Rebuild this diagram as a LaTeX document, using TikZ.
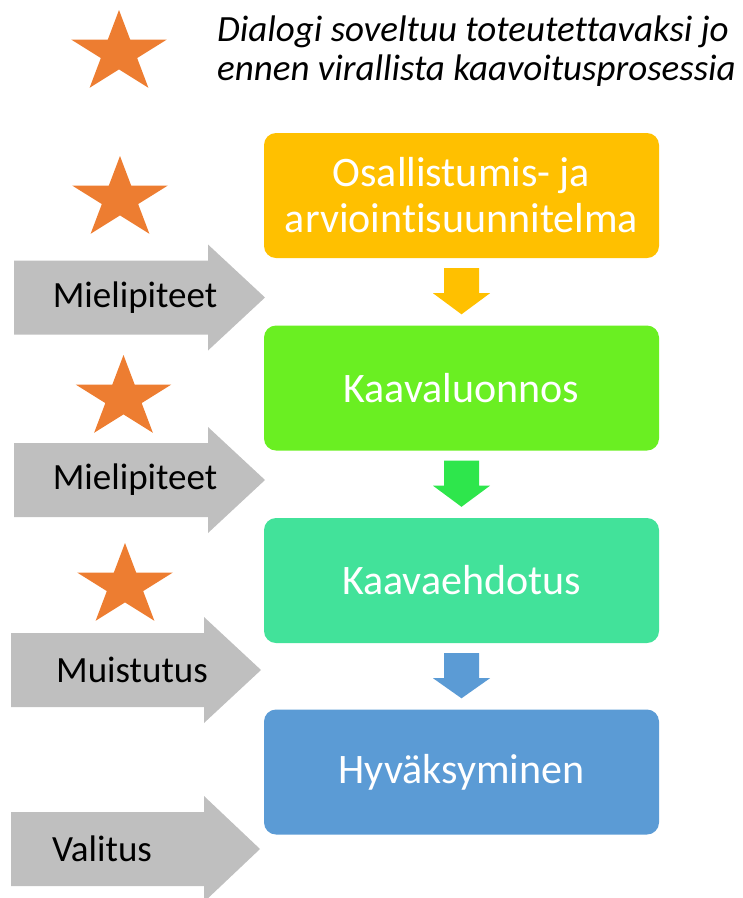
\documentclass[tikz,border=0pt]{standalone}
\usepackage{fontspec}
\setmainfont{Carlito}[Ligatures=NoCommon]
\usetikzlibrary{calc}

\definecolor{staryellow}{HTML}{FFC000}
\definecolor{stagegreen}{HTML}{6AEF22}
\definecolor{arrowgreen}{HTML}{2EE64C}
\definecolor{stageteal}{HTML}{42E29A}
\definecolor{stageblue}{HTML}{5B9BD5}
\definecolor{feedgray}{HTML}{BFBFBF}
\definecolor{starorange}{HTML}{ED7D31}

\tikzset{
  stage/.style={rounded corners=12pt,minimum width=395pt,minimum height=125pt,
    inner sep=0pt,text=white,align=center,font=\fontsize{42}{46}\selectfont},
  feedlabel/.style={inner sep=0pt,font=\fontsize{37}{44}\selectfont},
  notetext/.style={anchor=base west,inner sep=0pt,font=\itshape\fontsize{37}{40}\selectfont}
}

\begin{document}
\begin{tikzpicture}[x=1pt,y=-1pt]
  \useasboundingbox (0,0) rectangle (743,898);

  % stars
  \foreach \sx/\sy in {119/53,120/199,123.5/398,125/586}
    \fill[starorange,shift={(\sx,\sy)}] (-90:50 and 43)
      \foreach \k in {1,...,9} { -- ({-90+36*\k}:{50*(1-0.618*mod(\k,2))} and {43*(1-0.618*mod(\k,2))}) }
      -- cycle;

  \node[notetext] (note1) at (217,41) {Dialogi soveltuu toteutettavaksi jo};
  \node[notetext] (note2) at (217,80) {ennen virallista kaavoitusprosessia};

  % process stages
  \node[stage,fill=staryellow] (osa)     at (461.5,195.5) {Osallistumis- ja\\arviointisuunnitelma};
  \node[stage,fill=stagegreen] (luonnos) at (461.5,388)   {Kaavaluonnos};
  \node[stage,fill=stageteal]  (ehdotus) at (461.5,580.5) {Kaavaehdotus};
  \node[stage,fill=stageblue]  (hyvaks)  at (461.5,772)   {Hyväksyminen};

  \foreach \from/\to/\col in {osa/luonnos/staryellow,luonnos/ehdotus/arrowgreen,ehdotus/hyvaks/stageblue}
    \fill[\col] ($(\from.south)+(-17.5,10)$) -- ($(\from.south)+(17.5,10)$)
      -- ($(\from.south)+(17.5,35)$) -- ($(\from.south)+(28.5,35)$)
      -- ($(\to.north)+(0,-11)$)
      -- ($(\from.south)+(-28.5,35)$) -- ($(\from.south)+(-17.5,35)$) -- cycle;

  % feedback arrows
  \foreach \ty/\bx/\hx/\tip/\tx/\lbl [count=\i] in {297.5/14/208/265/135/Mielipiteet,
      480/14/208/265/135/Mielipiteet,670/11/204/261/132/Muistutus,849/11/204/260/102/Valitus} {
    \fill[feedgray] (\bx,{\ty-37}) -- (\hx,{\ty-37}) -- (\hx,{\ty-53}) -- (\tip,\ty)
      -- (\hx,{\ty+53}) -- (\hx,{\ty+37}) -- (\bx,{\ty+37}) -- cycle;
    \node[feedlabel] (fb\i) at (\tx,\ty) {\lbl};
  }

\end{tikzpicture}
\end{document}
